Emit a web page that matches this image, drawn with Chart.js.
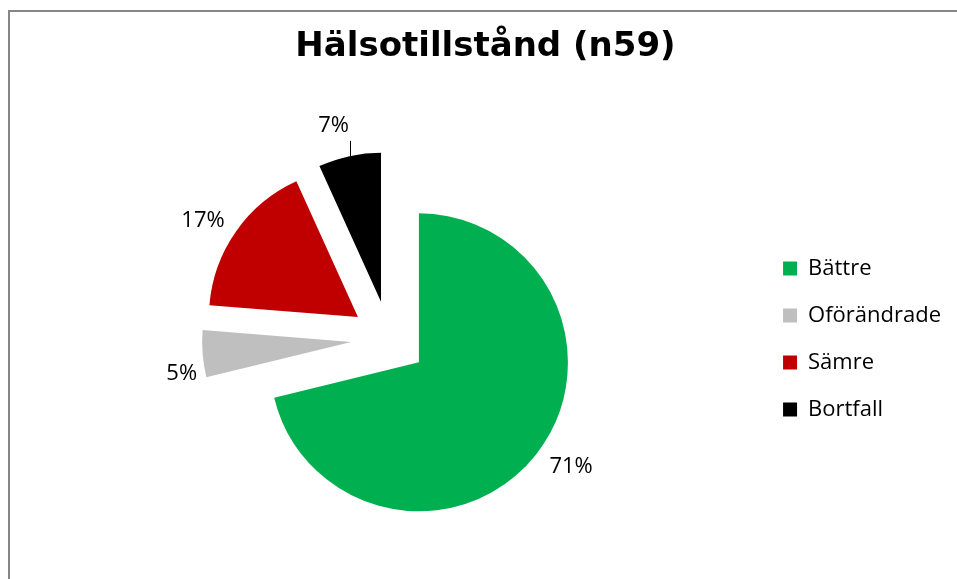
<!DOCTYPE html>
<html lang="sv">
<head>
<meta charset="utf-8">
<title>Hälsotillstånd</title>
<script src="https://cdn.jsdelivr.net/npm/chart.js@4"></script>
<style>
  html, body { margin: 0; padding: 0; background: #fff; overflow: hidden; }
  #frame {
    position: absolute;
    left: 8px;
    top: 10px;
    width: 1000px;
    border-left: 2px solid #868686;
    border-top: 2px solid #868686;
  }
  #chartBox { position: relative; width: 941px; height: 586px; }
</style>
</head>
<body>
<div id="frame"><div id="chartBox"><canvas id="healthChart"></canvas></div></div>
<script>
const categories = ["Bättre", "Oförändrade", "Sämre", "Bortfall"];
const counts = [42, 3, 10, 4]; // n = 59
const sliceColors = ["#00B050", "#BFBFBF", "#C00000", "#000000"];

const explodeBy = 38; // every slice pulled out from the centre
const labelGap = 33;
const labelNudge = [[9, -8], [12, 17], [-6, 8], [-9, 2]];
const leaderLabels = [3]; // 7% label gets a short leader line

// push each arc out along its bisector
const explodePie = {
  id: "explodePie",
  afterDatasetUpdate(chart, args) {
    args.meta.data.forEach((arc) => {
      const mid = (arc.startAngle + arc.endAngle) / 2;
      arc.x += Math.cos(mid) * explodeBy;
      arc.y += Math.sin(mid) * explodeBy;
    });
  },
};

// percentage labels outside the slices
const sliceLabels = {
  id: "sliceLabels",
  afterDatasetsDraw(chart) {
    const ctx = chart.ctx;
    const meta = chart.getDatasetMeta(0);
    const total = counts.reduce((a, b) => a + b, 0);
    ctx.save();
    ctx.font = '22px "Open Sans"';
    ctx.fillStyle = "#000";
    ctx.strokeStyle = "#000";
    ctx.lineWidth = 1;
    ctx.textAlign = "center";
    ctx.textBaseline = "middle";
    meta.data.forEach((arc, i) => {
      const mid = (arc.startAngle + arc.endAngle) / 2;
      const d = arc.outerRadius + labelGap;
      const x = arc.x + Math.cos(mid) * d + labelNudge[i][0];
      const y = arc.y + Math.sin(mid) * d + labelNudge[i][1];
      ctx.fillText(Math.round((counts[i] / total) * 100) + "%", x, y);
      if (leaderLabels.includes(i)) {
        const lx = Math.round(x + 16) + 0.5;
        const dx = lx - arc.x;
        const ly = arc.y - Math.sqrt(arc.outerRadius * arc.outerRadius - dx * dx);
        ctx.beginPath();
        ctx.moveTo(lx, y + 15);
        ctx.lineTo(lx, ly);
        ctx.stroke();
      }
    });
    ctx.restore();
  },
};

const ctx = document.getElementById("healthChart");
new Chart(ctx, {
  type: "pie",
  data: {
    labels: categories,
    datasets: [
      {
        data: counts,
        backgroundColor: sliceColors,
        borderColor: sliceColors,
        borderWidth: 0,
      },
    ],
  },
  options: {
    responsive: true,
    maintainAspectRatio: false,
    animation: false,
    events: [],
    radius: 149,
    layout: {
      padding: { left: 10, right: 0, top: 0, bottom: 0 },
    },
    plugins: {
      title: {
        display: true,
        text: "Hälsotillstånd (n59)",
        color: "#000",
        font: { family: "DejaVu Sans", size: 34, weight: "bold" },
        padding: { top: 15, bottom: 12 },
      },
      legend: {
        position: "right",
        fullSize: false,
        labels: {
          boxWidth: 14,
          boxHeight: 14,
          padding: 25,
          color: "#000",
          font: { family: "Open Sans", size: 22 },
        },
      },
      tooltip: { enabled: false },
    },
  },
  plugins: [explodePie, sliceLabels],
});
</script>
</body>
</html>
